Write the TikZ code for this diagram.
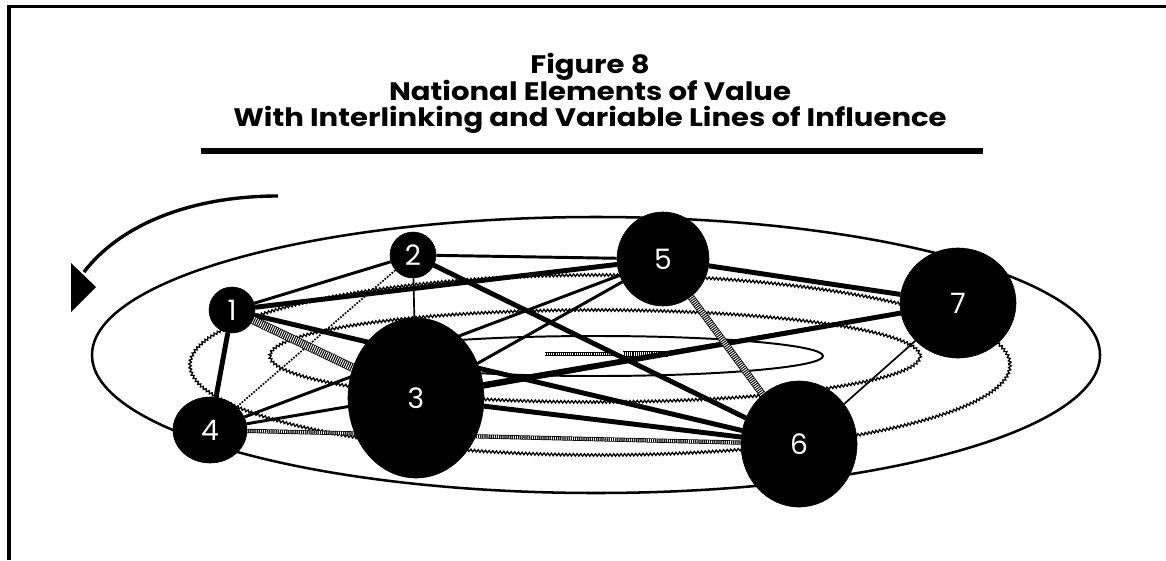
\documentclass[tikz,border=0pt]{standalone}
\usepackage{fontspec}
\setmainfont{Poppins}
\usetikzlibrary{shapes.geometric,decorations.pathmorphing}
\pgfdeclarelayer{background}
\pgfsetlayers{background,main}

\begin{document}
\begin{tikzpicture}[x=0.025cm,y=-0.025cm,
    elem/.style={ellipse, fill=black, draw=black, inner sep=0pt, text=white, font=\fontsize{20}{20}\selectfont},
    heavy link/.style={line width=3.5pt},
    mid link/.style={line width=2.1pt},
    light link/.style={line width=1.2pt},
    hatched/.style={draw=black, line width=#1, postaction={draw=white, line width=#1-1pt, dash pattern=on 0.6pt off 0.9pt}},
    ring/.style={line width=1.8pt},
    wavy ring/.style={line width=0.9pt, decorate, decoration={zigzag, segment length=2.6pt, amplitude=0.9pt}},
    titletext/.style={anchor=base, font=\fontsize{18}{20}\selectfont\bfseries\addfontfeature{FakeStretch=1.15}}]
    \useasboundingbox (0,0) rectangle (1166,560);

    % Frame
    \draw[line width=2.8pt] (9,560) -- (9,6.5) -- (1166,6.5);

    % Title
    \node[titletext] (fig) at (590,73) {Figure 8};
    \node[titletext] (sub) at (590,100) {National Elements of Value};
    \node[titletext] (subsub) at (590,126) {With Interlinking and Variable Lines of Influence};
    \draw[line width=4.3pt] (201,151) -- (983,151);

    % Rotation arrow
    \coordinate (spin start) at (278,196);
    \coordinate (spin end) at (84,272);
    \draw[line width=2.4pt] (spin start) .. controls (190,196) and (120,225) .. (spin end);
    \fill (71,263) -- (71,312) -- (96,287) -- cycle;

    % Elements
    \node[elem, minimum width=1.15cm, minimum height=1.15cm] (n1) at (232,310) {1};
    \node[elem, minimum width=1.15cm, minimum height=1.15cm] (n2) at (413,255) {2};
    \node[elem, minimum width=3.4cm, minimum height=4.0cm] (n3) at (416,398) {3};
    \node[elem, minimum width=1.85cm, minimum height=1.65cm] (n4) at (210,430) {4};
    \node[elem, minimum width=2.3cm, minimum height=2.35cm] (n5) at (663,259) {5};
    \node[elem, minimum width=2.9cm, minimum height=3.15cm] (n6) at (799,444) {6};
    \node[elem, minimum width=2.9cm, minimum height=2.75cm] (n7) at (958,303) {7};

    \begin{pgfonlayer}{background}
        % Rings
        \draw[ring] (596,355) ellipse [x radius=504, y radius=138];
        \draw[wavy ring] (600,365) ellipse [x radius=410, y radius=90];
        \draw[wavy ring] (595,356) ellipse [x radius=325, y radius=46];
        \draw[ring, line width=1.4pt] (596,356) ellipse [x radius=227, y radius=20];
        \draw[hatched=2.8pt] (545,354) -- (615,354);
        \draw[hatched=4.5pt] (623,354) -- (668,354);

        % Lines of influence
        \draw[heavy link] (n1) -- (n4);
        \draw[heavy link] (n1) -- (n5);
        \draw[heavy link] (n1) -- (n6);
        \draw[heavy link] (n2) -- (n6);
        \draw[heavy link] (n3) -- (n6);
        \draw[heavy link] (n3) -- (n7);
        \draw[heavy link] (n5) -- (n7);
        \draw[mid link] (n1) -- (n2);
        \draw[mid link] (n2) -- (n5);
        \draw[mid link] (n4) -- (n5);
        \draw[mid link] (n3) -- (n5);
        \draw[mid link] (n4) -- (n7);
        \draw[light link] (n2) -- (n3);
        \draw[light link] (n6) -- (n7);
        \draw[light link, densely dotted] (n2) -- (n4);
        \draw[hatched=6pt] (n1) -- (n3);
        \draw[hatched=5pt] (n5) -- (n6);
        \draw[hatched=3pt] (n4) -- (n6);
    \end{pgfonlayer}
\end{tikzpicture}
\end{document}
